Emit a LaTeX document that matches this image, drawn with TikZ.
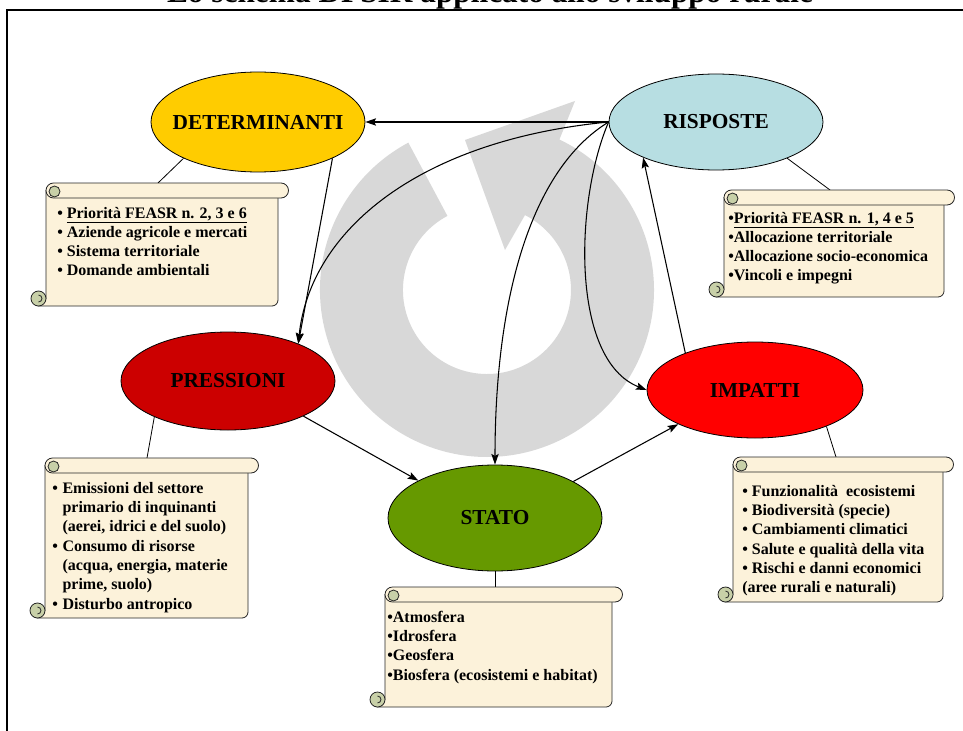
\documentclass[tikz,border=0pt]{standalone}
\usepackage{fontspec}
\setmainfont{Liberation Serif}
\usetikzlibrary{shapes.geometric,arrows.meta}
\definecolor{detcol}{RGB}{255,204,0}
\definecolor{rispcol}{RGB}{183,222,226}
\definecolor{presscol}{RGB}{204,0,0}
\definecolor{impcol}{RGB}{255,0,0}
\definecolor{statocol}{RGB}{102,153,0}
\definecolor{parch}{RGB}{252,242,218}
\definecolor{curlcol}{RGB}{200,208,168}
\definecolor{ringcol}{RGB}{216,216,216}
% #1 = body left, #2 = roll top, #3 = body right, #4 = bottom (pixels)
\newcommand\scrollshape[4]{%
  \draw[scrollline, fill=parch] (#1-7.5,#4) -- (#3-6,#4) arc[start angle=90,end angle=0,radius=6] -- (#3,#2+7.5) -- (#1,#2+7.5) -- (#1,#4-7.5) -- cycle;
  \draw[scrollline, fill=curlcol] (#1-7.5,#4-7.5) circle (7.5);
  \draw[scrollline] (#1-7.5,#4-11) arc[start angle=-90,end angle=90,radius=3.5];
  \draw[scrollline, fill=parch] (#1+7.5,#2) -- (#3+3,#2) arc[start angle=-90,end angle=90,radius=7.5] -- (#1+7.5,#2+15) arc[start angle=90,end angle=270,radius=7.5] -- cycle;
  \draw[scrollline, fill=curlcol] (#1+8.5,#2+8.5) circle (5.5);
}
\begin{document}
\begin{tikzpicture}[x=0.75pt,y=-0.75pt,
  ell/.style={ellipse, draw=black, line width=0.6pt, inner sep=0pt, minimum width=160.5pt},
  lbl/.style={inner sep=0pt, font=\bfseries\fontsize{16}{19}\selectfont},
  conn/.style={line width=0.8pt, -{Stealth[length=8pt,width=5.5pt,inset=1.5pt]}},
  tie/.style={line width=0.6pt},
  scrollline/.style={draw=black!85, line width=0.6pt},
  boxtext/.style={anchor=base west, inner sep=0pt, font=\bfseries\fontsize{12}{14.5}\selectfont}]
\useasboundingbox (0,0) rectangle (963,731);
\clip (0,0) rectangle (963,731);
\fill[white] (0,0) rectangle (963,731);
% frame and title
\draw[line width=2.2pt] (7,10) rectangle (1000,800);
\node[anchor=base, inner sep=0pt, font=\bfseries\fontsize{23.5}{28}\selectfont] (title) at (490,3) {Lo schema DPSIR applicato allo sviluppo rurale};
% background circular arrow
\fill[ringcol] (559.4,139.5) arc[start angle=-64.3, end angle=241.9, radius=167] -- (447.4,215.9) arc[start angle=241.9, end angle=-63.1, radius=84] -- (505,250) -- (465,140) -- (575,101) -- cycle;
% ellipses
\node[ell, fill=detcol, minimum height=75pt] (det) at (258,122) {};
\node[ell, fill=rispcol, minimum height=72pt] (risp) at (716,122) {};
\node[ell, fill=presscol, minimum height=73.5pt] (press) at (228,381) {};
\node[ell, fill=impcol, minimum width=162pt, minimum height=72pt] (imp) at (755,390) {};
\node[ell, fill=statocol, minimum height=79.5pt] (stato) at (495,518) {};
\node[lbl] (detL) at (det.center) {DETERMINANTI};
\node[lbl] (rispL) at (risp.center) {RISPOSTE};
\node[lbl] (pressL) at (press.center) {PRESSIONI};
\node[lbl] (impL) at (imp.center) {IMPATTI};
\node[lbl] (statoL) at (stato.center) {STATO};
% ties to scrolls
\coordinate (detTie) at (158,183);
\coordinate (rispTie) at (830,190);
\coordinate (pressTie) at (147,458);
\coordinate (statoTie) at (495,587);
\coordinate (impTie) at (836,457);
\draw[tie] (det.206) -- (detTie);
\draw[tie] (risp.-27) -- (rispTie);
\draw[tie] (press.206) -- (pressTie);
\draw[tie] (stato.south) -- (statoTie);
\draw[tie] (imp.-27) -- (impTie);
% scrolls
\scrollshape{46}{183}{278}{306}
\scrollshape{724}{190}{944}{297}
\scrollshape{45}{458}{248}{618}
\scrollshape{385}{587}{612}{707}
\scrollshape{733}{457}{943}{602}
% scroll texts
\node[boxtext] (detT) at (57,218) {\begin{tabular}[t]{@{}l@{}}• \underline{Priorità FEASR n. 2, 3 e 6}\\• Aziende agricole e mercati\\• Sistema territoriale\\• Domande ambientali\end{tabular}};
\node[boxtext] (rispT) at (728,223) {\begin{tabular}[t]{@{}l@{}}•\underline{Priorità FEASR n. 1, 4 e 5}\\•Allocazione territoriale\\•Allocazione socio-economica\\•Vincoli e impegni\end{tabular}};
\node[boxtext] (pressT) at (52,493) {\begin{tabular}[t]{@{}l@{\hspace{3.5pt}}l@{}}•& Emissioni del settore\\ & primario di inquinanti\\ & (aerei, idrici e del suolo)\\ •& Consumo di risorse\\ & (acqua, energia, materie\\ & prime, suolo)\\ •& Disturbo antropico\end{tabular}};
\node[boxtext] (statoT) at (387,622) {\begin{tabular}[t]{@{}l@{}}•Atmosfera\\•Idrosfera\\•Geosfera\\•Biosfera (ecosistemi e habitat)\end{tabular}};
\node[boxtext] (impT) at (742,496) {\begin{tabular}[t]{@{}l@{}}• Funzionalità\ \ ecosistemi\\• Biodiversità (specie)\\• Cambiamenti climatici\\• Salute e qualità della vita\\• Rischi e danni economici\\(aree rurali e naturali)\end{tabular}};
% connectors
\draw[conn] (risp.west) -- (det.east);
\draw[conn] (det.-26) -- (press.28);
\draw[conn] (risp.west) .. controls (420,140) and (310,230) .. (press.28);
\draw[conn] (risp.west) .. controls (530,170) and (495,300) .. (stato.north);
\draw[conn] (risp.west) .. controls (575,200) and (570,360) .. (imp.west);
\draw[conn] (imp.152) -- (risp.206);
\draw[conn] (press.-25) -- (stato.154);
\draw[conn] (stato.25) -- (imp.204);
\end{tikzpicture}
\end{document}
